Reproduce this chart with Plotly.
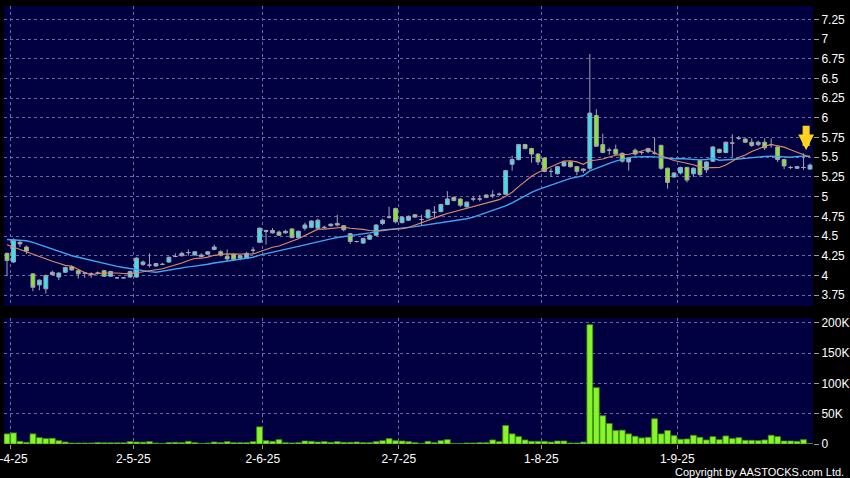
import plotly.graph_objects as go

# ---------------- data ----------------
month_start_idx = [1, 20, 40, 61, 83, 104]
month_labels = ["1-4-25", "2-5-25", "2-6-25", "2-7-25", "1-8-25", "1-9-25"]

opens = [4.28, 4.17, 4.42, 4.36, 4.02, 3.88, 3.83, 4.04, 3.98, 4.04,
         4.11, 4.06, 4.03, 4.02, 4.03, 4.06, 3.99, 3.97, 3.97, 3.98,
         3.98, 4.14, 4.13, 4.12, 4.14, 4.17, 4.24, 4.25, 4.29, 4.26,
         4.24, 4.27, 4.33, 4.30, 4.24, 4.27, 4.25, 4.22, 4.32, 4.42,
         4.57, 4.54, 4.55, 4.54, 4.59, 4.48, 4.60, 4.61, 4.60, 4.61,
         4.63, 4.66, 4.63, 4.53, 4.43, 4.41, 4.46, 4.51, 4.66, 4.74,
         4.85, 4.67, 4.70, 4.77, 4.71, 4.73, 4.80, 4.81, 4.90, 4.99,
         4.97, 4.87, 4.97, 4.97, 5.02, 5.01, 5.03, 5.03, 5.41, 5.47,
         5.66, 5.61, 5.54, 5.49, 5.32, 5.29, 5.39, 5.44, 5.38, 5.33,
         5.36, 6.03, 5.66, 5.59, 5.60, 5.55, 5.44, 5.59, 5.56, 5.57,
         5.55, 5.65, 5.36, 5.25, 5.30, 5.37, 5.29, 5.46, 5.34, 5.45,
         5.60, 5.56, 5.68, 5.74, 5.73, 5.69, 5.66, 5.69, 5.66, 5.63,
         5.47, 5.37, 5.36, 5.37, 5.35]
highs = [4.29, 4.47, 4.44, 4.38, 4.03, 3.95, 4.01, 4.06, 4.04, 4.11,
         4.13, 4.07, 4.04, 4.04, 4.05, 4.07, 4.06, 3.98, 3.98, 4.06,
         4.23, 4.19, 4.28, 4.16, 4.16, 4.24, 4.28, 4.30, 4.33, 4.31,
         4.28, 4.31, 4.39, 4.32, 4.33, 4.28, 4.26, 4.30, 4.36, 4.61,
         4.58, 4.60, 4.57, 4.58, 4.60, 4.57, 4.67, 4.70, 4.72, 4.63,
         4.66, 4.77, 4.64, 4.54, 4.44, 4.48, 4.52, 4.65, 4.72, 4.87,
         4.86, 4.75, 4.76, 4.78, 4.77, 4.84, 4.88, 4.91, 5.07, 5.00,
         4.98, 4.94, 5.01, 5.02, 5.03, 5.08, 5.05, 5.34, 5.52, 5.67,
         5.67, 5.62, 5.55, 5.50, 5.36, 5.39, 5.45, 5.45, 5.39, 5.36,
         6.81, 6.11, 5.80, 5.62, 5.66, 5.56, 5.50, 5.61, 5.58, 5.62,
         5.75, 5.66, 5.37, 5.31, 5.38, 5.38, 5.37, 5.47, 5.45, 5.64,
         5.61, 5.70, 5.79, 5.77, 5.75, 5.74, 5.71, 5.74, 5.74, 5.64,
         5.48, 5.39, 5.39, 5.55, 5.42]
lows = [3.99, 4.16, 4.36, 4.27, 3.80, 3.81, 3.77, 4.00, 3.94, 4.03,
        4.06, 3.96, 3.97, 3.97, 4.01, 3.98, 3.98, 3.96, 3.96, 3.97,
        3.97, 4.12, 4.10, 4.11, 4.13, 4.16, 4.23, 4.24, 4.25, 4.25,
        4.23, 4.26, 4.32, 4.24, 4.18, 4.18, 4.19, 4.21, 4.27, 4.41,
        4.39, 4.53, 4.50, 4.53, 4.47, 4.47, 4.57, 4.60, 4.59, 4.59,
        4.62, 4.62, 4.56, 4.40, 4.42, 4.40, 4.45, 4.50, 4.64, 4.72,
        4.66, 4.66, 4.69, 4.73, 4.64, 4.72, 4.73, 4.80, 4.89, 4.94,
        4.87, 4.86, 4.94, 4.94, 4.98, 4.98, 5.01, 5.02, 5.33, 5.46,
        5.60, 5.43, 5.40, 5.31, 5.25, 5.28, 5.38, 5.37, 5.27, 5.30,
        5.34, 5.63, 5.55, 5.53, 5.53, 5.43, 5.33, 5.52, 5.53, 5.55,
        5.53, 5.34, 5.10, 5.24, 5.28, 5.18, 5.25, 5.25, 5.30, 5.44,
        5.55, 5.55, 5.50, 5.72, 5.68, 5.63, 5.64, 5.59, 5.62, 5.44,
        5.35, 5.35, 5.35, 5.34, 5.34]
closes = [4.19, 4.45, 4.40, 4.31, 3.85, 3.94, 4.00, 4.01, 4.03, 4.10,
          4.07, 4.02, 4.03, 4.02, 4.03, 3.99, 4.05, 3.97, 3.97, 4.05,
          4.22, 4.17, 4.13, 4.15, 4.14, 4.23, 4.24, 4.28, 4.29, 4.30,
          4.26, 4.30, 4.36, 4.26, 4.21, 4.20, 4.22, 4.28, 4.32, 4.60,
          4.56, 4.57, 4.51, 4.56, 4.48, 4.56, 4.64, 4.69, 4.70, 4.61,
          4.65, 4.64, 4.58, 4.43, 4.43, 4.47, 4.51, 4.64, 4.70, 4.74,
          4.68, 4.74, 4.75, 4.74, 4.71, 4.83, 4.80, 4.90, 4.97, 4.95,
          4.89, 4.93, 4.97, 4.97, 4.99, 5.02, 5.03, 5.33, 5.47, 5.66,
          5.61, 5.54, 5.44, 5.32, 5.32, 5.38, 5.44, 5.38, 5.32, 5.35,
          6.06, 5.64, 5.56, 5.59, 5.54, 5.45, 5.49, 5.54, 5.56, 5.61,
          5.55, 5.36, 5.18, 5.30, 5.37, 5.21, 5.36, 5.28, 5.44, 5.63,
          5.56, 5.69, 5.68, 5.74, 5.69, 5.65, 5.69, 5.62, 5.66, 5.47,
          5.39, 5.37, 5.38, 5.37, 5.40]
ma_short = [4.39, 4.36, 4.33, 4.30, 4.27, 4.235, 4.21, 4.18, 4.155, 4.128,
            4.116, 4.073, 4.036, 4.007, 4.025, 4.030, 4.035, 4.031, 4.025, 4.020,
            4.035, 4.050, 4.060, 4.073, 4.084, 4.108, 4.127, 4.158, 4.190, 4.215,
            4.219, 4.232, 4.255, 4.266, 4.273, 4.270, 4.268, 4.268, 4.271, 4.301,
            4.331, 4.358, 4.373, 4.403, 4.430, 4.466, 4.508, 4.549, 4.587, 4.588,
            4.597, 4.604, 4.611, 4.598, 4.593, 4.584, 4.571, 4.566, 4.566, 4.579,
            4.582, 4.592, 4.609, 4.640, 4.668, 4.704, 4.733, 4.759, 4.786, 4.807,
            4.828, 4.847, 4.869, 4.892, 4.920, 4.939, 4.962, 5.005, 5.055, 5.126,
            5.198, 5.259, 5.306, 5.341, 5.374, 5.410, 5.451, 5.456, 5.441, 5.410,
            5.455, 5.465, 5.477, 5.504, 5.526, 5.533, 5.538, 5.554, 5.578, 5.604,
            5.553, 5.525, 5.487, 5.458, 5.441, 5.417, 5.404, 5.378, 5.366, 5.368,
            5.369, 5.402, 5.452, 5.496, 5.528, 5.572, 5.605, 5.639, 5.661, 5.645,
            5.628, 5.596, 5.566, 5.529, 5.500]
ma_long = [4.455, 4.45, 4.445, 4.44, 4.42, 4.39, 4.36, 4.335, 4.31, 4.28,
           4.25, 4.23, 4.21, 4.19, 4.17, 4.15, 4.13, 4.115, 4.10, 4.085,
           4.076, 4.062, 4.048, 4.040, 4.055, 4.069, 4.081, 4.095, 4.108, 4.118,
           4.127, 4.141, 4.158, 4.170, 4.179, 4.189, 4.198, 4.213, 4.231, 4.258,
           4.275, 4.295, 4.314, 4.335, 4.352, 4.368, 4.388, 4.409, 4.429, 4.445,
           4.464, 4.481, 4.492, 4.501, 4.512, 4.525, 4.540, 4.558, 4.577, 4.584,
           4.590, 4.598, 4.610, 4.619, 4.631, 4.644, 4.652, 4.663, 4.676, 4.693,
           4.705, 4.720, 4.739, 4.766, 4.794, 4.822, 4.848, 4.882, 4.921, 4.967,
           5.013, 5.053, 5.088, 5.117, 5.147, 5.175, 5.207, 5.231, 5.248, 5.268,
           5.327, 5.362, 5.392, 5.423, 5.450, 5.472, 5.495, 5.505, 5.510, 5.507,
           5.504, 5.495, 5.482, 5.481, 5.484, 5.475, 5.471, 5.466, 5.472, 5.486,
           5.461, 5.464, 5.470, 5.477, 5.485, 5.495, 5.505, 5.509, 5.514, 5.507,
           5.499, 5.499, 5.509, 5.513, 5.514]
volume_k = [16.7, 18.3, 4.4, 2.8, 16.7, 10.5, 8.9, 9.4, 5.5, 3.3,
            1.6, 1.6, 1.6, 1.6, 2.5, 2.0, 2.0, 2.0, 2.0, 3.9,
            3.3, 3.0, 3.9, 1.5, 1.0, 2.5, 2.8, 2.2, 4.4, 2.2,
            1.0, 1.5, 3.3, 2.2, 3.9, 2.2, 2.2, 2.2, 3.9, 28.3,
            5.5, 4.4, 7.2, 2.2, 1.7, 2.2, 5.0, 4.4, 3.3, 3.9,
            2.8, 3.9, 2.8, 2.8, 3.3, 2.2, 2.2, 3.9, 5.5, 8.9,
            5.5, 5.0, 3.9, 2.2, 1.0, 4.4, 2.2, 5.5, 7.2, 1.0,
            1.0, 1.7, 1.7, 2.2, 2.2, 6.7, 3.9, 30.5, 16.7, 12.2,
            6.7, 4.4, 4.4, 4.4, 3.3, 5.0, 5.0, 1.7, 1.7, 3.3,
            197.0, 93.0, 46.7, 33.8, 22.2, 22.8, 16.7, 12.8, 10.0, 11.0,
            41.7, 16.7, 22.2, 13.9, 7.8, 8.3, 14.4, 11.0, 6.7, 12.2,
            7.2, 13.3, 8.9, 10.5, 6.1, 6.1, 5.5, 6.7, 14.4, 12.2,
            5.0, 5.0, 4.4, 7.2, 1.0]

price_ticks = [3.75, 4.0, 4.25, 4.5, 4.75, 5.0, 5.25, 5.5, 5.75, 6.0, 6.25, 6.5, 6.75, 7.0, 7.25]
price_tick_text = ["3.75", "4", "4.25", "4.5", "4.75", "5", "5.25", "5.5", "5.75", "6", "6.25", "6.5", "6.75", "7", "7.25"]
vol_ticks = [0, 50, 100, 150, 200]
vol_tick_text = ["0", "50K", "100K", "150K", "200K"]

# ---------------- figure ----------------
W, H = 850, 478
idx = list(range(len(closes)))
month_pos = [i - 0.5 for i in month_start_idx]

GRID = "#6a6a9c"
DASH = "3px,3px"
FONT = dict(family="Arial, Liberation Sans, sans-serif", size=12, color="#ffffff")

fig = go.Figure()
fig.add_trace(go.Candlestick(
    x=idx, open=opens, high=highs, low=lows, close=closes,
    increasing=dict(fillcolor="#36e2f2", line=dict(color="#a4a4b4", width=1)),
    decreasing=dict(fillcolor="#88e62c", line=dict(color="#a4a4b4", width=1)),
    whiskerwidth=0, xaxis="x", yaxis="y", hoverinfo="skip"))
fig.add_trace(go.Scatter(x=idx, y=ma_long, mode="lines",
                         line=dict(color="#3ea6f0", width=1.4), xaxis="x", yaxis="y"))
fig.add_trace(go.Scatter(x=idx, y=ma_short, mode="lines",
                         line=dict(color="#e08a6c", width=1.1), xaxis="x", yaxis="y"))
fig.add_trace(go.Bar(x=idx, y=volume_k, xaxis="x2", yaxis="y2",
                     marker=dict(color="#86f52c", line=dict(color="#3f8c12", width=0.8))))

xr = [-0.463, 124.46]
xdom = [4 / W, 813 / W]
fig.update_layout(
    width=W, height=H, autosize=False,
    margin=dict(l=0, r=0, t=0, b=0, pad=0, autoexpand=False),
    paper_bgcolor="#000000", plot_bgcolor="#000040",
    showlegend=False, boxgap=0.15, bargap=0.1,
    font=FONT,
    xaxis=dict(domain=xdom, range=xr, anchor="y", tickvals=month_pos,
               showticklabels=False, ticks="", showgrid=True, gridcolor=GRID,
               griddash=DASH, gridwidth=1, zeroline=False, automargin=False,
               rangeslider=dict(visible=False), fixedrange=True),
    yaxis=dict(domain=[1 - 306 / H, 1 - 6 / H], range=[3.612, 7.419], side="right",
               anchor="x", tickvals=price_ticks, ticktext=price_tick_text,
               ticks="outside", ticklen=5, tickcolor="#9a9a9a", showgrid=True,
               gridcolor=GRID, griddash=DASH, zeroline=False, tickfont=FONT,
               ticklabeloverflow="allow", automargin=False),
    xaxis2=dict(domain=xdom, range=xr, anchor="y2", matches="x",
                tickvals=month_pos, ticktext=month_labels, ticks="outside",
                ticklen=4, tickcolor="#9a9a9a", showgrid=True, gridcolor=GRID,
                griddash=DASH, zeroline=False, tickfont=FONT,
                ticklabeloverflow="allow", automargin=False),
    yaxis2=dict(domain=[1 - 444 / H, 1 - 318 / H], range=[0, 208], side="right",
                anchor="x2", tickvals=vol_ticks, ticktext=vol_tick_text,
                ticks="outside", ticklen=5, tickcolor="#9a9a9a", showgrid=True,
                gridcolor=GRID, griddash=DASH, zeroline=False, tickfont=FONT,
                ticklabeloverflow="allow", automargin=False),
)

fig.add_annotation(x=123.4, y=highs[123] + 0.04, xref="x", yref="y",
                   ax=0, ay=-26, showarrow=True, arrowhead=2, arrowsize=0.45,
                   arrowwidth=7, arrowcolor="#ffd21e", text="")
fig.add_annotation(x=846 / W, y=1 - 472 / H, xref="paper", yref="paper",
                   xanchor="right", yanchor="middle", showarrow=False,
                   text="Copyright by AASTOCKS.com Ltd.",
                   font=dict(family="Arial, Liberation Sans, sans-serif", size=11, color="#ffffff"))

fig.write_html("out.html",
               config={"displayModeBar": False, "responsive": False},
               post_script="document.body.style.margin='0';document.body.style.overflow='hidden';")
